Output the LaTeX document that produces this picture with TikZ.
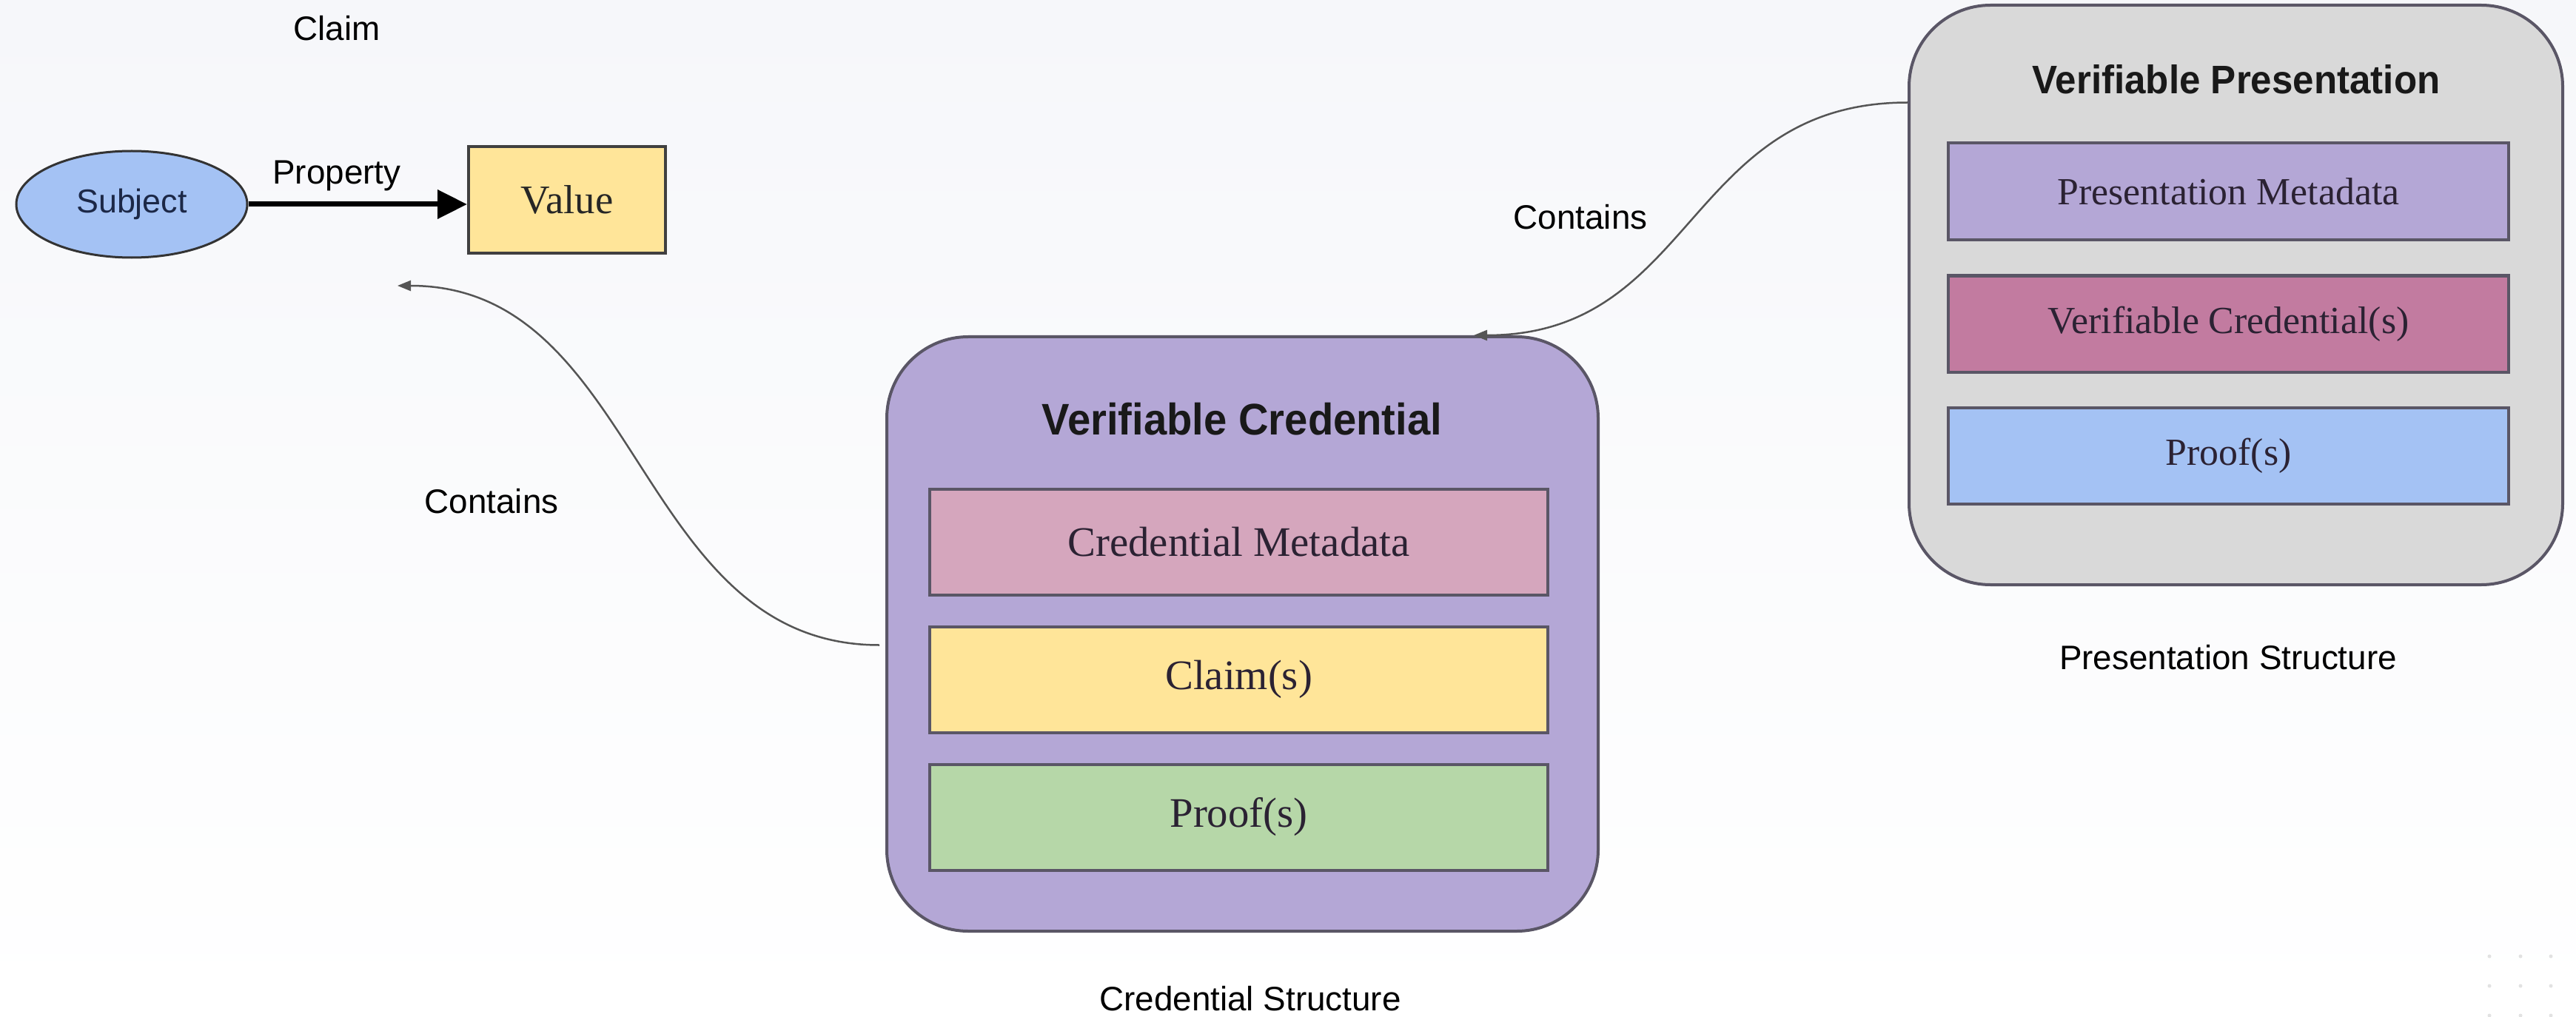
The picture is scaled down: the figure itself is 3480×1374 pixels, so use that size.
\documentclass[tikz,border=0pt]{standalone}
\usepackage{fontspec}
\setmainfont{Liberation Serif}
\setsansfont{Liberation Sans}
\usetikzlibrary{arrows.meta,shapes.geometric,calc}
\definecolor{bgtop}{HTML}{F6F7FA}
\definecolor{bgbot}{HTML}{FFFFFF}
\definecolor{edge}{HTML}{5A5666}
\definecolor{subjfill}{HTML}{A4C2F4}
\definecolor{subjtext}{HTML}{1C2847}
\definecolor{yellowf}{HTML}{FFE599}
\definecolor{purplef}{HTML}{B4A7D6}
\definecolor{pinkf}{HTML}{D5A6BD}
\definecolor{greenf}{HTML}{B6D7A8}
\definecolor{grayf}{HTML}{D9D9D9}
\definecolor{magentaf}{HTML}{C27BA0}
\definecolor{bluef}{HTML}{A4C2F4}
\definecolor{conn}{HTML}{555555}
\definecolor{innertext}{HTML}{2B2233}
\definecolor{dotc}{HTML}{E2E2E2}
\begin{document}
\begin{tikzpicture}[x=1bp,y=-1bp,
  lbl/.style={font=\sffamily\fontsize{46}{55}\selectfont, text=black, inner sep=0},
  container/.style={draw=edge, line width=4bp, rounded corners=110bp, inner sep=0},
  layer/.style={draw=edge, line width=4bp, inner sep=0, text=innertext},
  vclayer/.style={layer, minimum width=835bp, minimum height=143bp, font=\rmfamily\fontsize{57}{68}\selectfont},
  vplayer/.style={layer, minimum width=757bp, minimum height=130bp, font=\rmfamily\fontsize{52}{62}\selectfont},
  title/.style={inner sep=0, text=black!90, font=\sffamily\bfseries},
  contains/.style={draw=conn, line width=2.5bp, -{Triangle[length=18bp,width=14bp]}},
]
\useasboundingbox (0,0) rectangle (3480,1374);
\shade[top color=bgtop, bottom color=bgbot] (0,0) rectangle (3480,1374);

% Claim group
\node[lbl] (claimlbl) at (455,38) {Claim};
\node[ellipse, draw=black!80, line width=3bp, fill=subjfill, minimum width=312bp, minimum height=144bp, inner sep=0,
      text=subjtext, font=\sffamily\fontsize{45}{54}\selectfont] (subject) at (178,276) {Subject};
\node[draw=black!75, line width=4bp, fill=yellowf, minimum width=266bp, minimum height=144bp, inner sep=0,
      text=black!85, font=\rmfamily\fontsize{55}{66}\selectfont] (value) at (766,270) {Value};
\draw[line width=7bp, -{Triangle[length=40bp,width=38bp]}] (subject.east) -- (subject.east -| value.west);
\node[lbl] (property) at (455,237) {Property};

% Verifiable Credential
\node[container, fill=purplef, minimum width=961bp, minimum height=803bp] (vc) at (1678.5,856.5) {};
\node[title] (vctitle) at (1678,566) {\fontsize{60}{72}\selectfont\scalebox{0.94}[1]{Verifiable Credential}};
\node[vclayer, fill=pinkf] (cm) at (1673.5,732) {Credential Metadata};
\node[vclayer, fill=yellowf] (claims) at (1673.5,918) {Claim(s)};
\node[vclayer, fill=greenf] (proofs) at (1673.5,1104) {Proof(s)};
\node[lbl] (cslbl) at (1689,1349) {Credential Structure};

% Verifiable Presentation
\node[container, fill=grayf, minimum width=883bp, minimum height=783bp] (vp) at (3020.5,398.5) {};
\node[title] (vptitle) at (3021,107) {\fontsize{54}{65}\selectfont\scalebox{0.95}[1]{Verifiable Presentation}};
\node[vplayer, fill=purplef] (pm) at (3010.5,258.5) {Presentation Metadata};
\node[vplayer, fill=magentaf] (vcs) at (3010.5,437.5) {Verifiable Credential(s)};
\node[vplayer, fill=bluef] (pproofs) at (3010.5,615.5) {Proof(s)};
\node[lbl] (pslbl) at (3010,888) {Presentation Structure};

% Connectors
\coordinate (claimin) at (537,386);
\coordinate (vcout) at ($(vc.west)+(-8,15)$);
\draw[contains] (vcout) .. controls +(-330,0) and +(330,0) .. (claimin);
\node[lbl] (contains1) at (664,677) {Contains};

\coordinate (vpout) at ($(vp.west)+(0,-260)$);
\coordinate (vcin) at ($(vc.north east)+(-170,0)$);
\draw[contains] (vpout) .. controls +(-300,0) and +(300,0) .. (vcin);
\node[lbl] (contains2) at (2135,293) {Contains};

% faint corner dots
\foreach \dx in {3363,3405,3446}
  \foreach \dy in {1292,1332,1372}
    \fill[dotc] (\dx,\dy) circle (2.5);
\end{tikzpicture}
\end{document}
